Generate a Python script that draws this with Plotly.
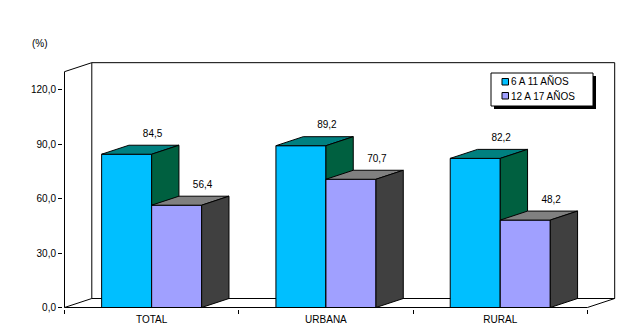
import plotly.graph_objects as go

# ---- data -------------------------------------------------------------
categories = ["TOTAL", "URBANA", "RURAL"]
series_names = ["6 A 11 AÑOS", "12 A 17 AÑOS"]
edad_6_11 = [84.5, 89.2, 82.2]
edad_12_17 = [56.4, 70.7, 48.2]
y_ticks = [0, 30, 60, 90, 120]

# ---- figure geometry --------------------------------------------------
W, H = 643, 336
ML, MR, MT, MB = 63, 27, 60, 27
PW, PH = W - ML - MR, H - MT - MB

X_PX = 174.3          # pixels per category
Y_PX = 1.814          # pixels per percentage point
x_range = [-0.5 - 1.5 / X_PX, -0.5 + (PW - 1.5) / X_PX]
y_range = [-1.5 / Y_PX, (PH - 1.5) / Y_PX]

DX, DY = 27.3 / X_PX, 9.0 / Y_PX   # 3-D depth offset in data units
WALL_TOP = 130.0
BW = 0.287                          # bar width (category units)

FONT = "Liberation Sans, Arial, sans-serif"

# colours: front, top, side
styles = [
    ("#00BFFF", "#008080", "#006040"),
    ("#A0A0FF", "#808080", "#404040"),
]

fig = go.Figure()


def poly(xs, ys, color):
    fig.add_trace(go.Scatter(
        x=xs + [xs[0]], y=ys + [ys[0]], mode="lines", fill="toself",
        fillcolor=color, line=dict(color="black", width=1),
        hoverinfo="skip", showlegend=False))


# walls and floor outline
x_l, x_r = -0.5, len(categories) - 0.5
wx = [x_l, x_l, None, x_l, x_l + DX, None,
      x_l + DX, x_r + DX, None, x_r + DX, x_r + DX, None,
      x_r + DX, x_l + DX, None, x_l + DX, x_l + DX, None,
      x_l, x_l + DX, None, x_r, x_r + DX]
wy = [0, WALL_TOP, None, WALL_TOP, WALL_TOP + DY, None,
      WALL_TOP + DY, WALL_TOP + DY, None, WALL_TOP + DY, DY, None,
      DY, DY, None, DY, WALL_TOP + DY, None,
      0, DY, None, 0, DY]
fig.add_trace(go.Scatter(x=wx, y=wy, mode="lines",
                         line=dict(color="black", width=1),
                         hoverinfo="skip", showlegend=False))

# 3-D columns
for i in range(len(categories)):
    for s, (vals, offset) in enumerate([(edad_6_11, -BW), (edad_12_17, 0.0)]):
        h = vals[i]
        x0 = i + offset
        x1 = x0 + BW
        front, top, side = styles[s]
        poly([x0, x1, x1, x0], [0, 0, h, h], front)
        poly([x0, x1, x1 + DX, x0 + DX], [h, h, h + DY, h + DY], top)
        poly([x1, x1 + DX, x1 + DX, x1], [0, DY, h + DY, h], side)

# front floor edge
fig.add_trace(go.Scatter(x=[x_l, x_r], y=[0, 0], mode="lines",
                         line=dict(color="black", width=1),
                         hoverinfo="skip", showlegend=False))

# value labels
def fmt(v):
    return f"{v:.1f}".replace(".", ",")

for vals, offset in [(edad_6_11, -BW), (edad_12_17, 0.0)]:
    xs = [i + offset + BW / 2 + DX * 0.95 for i in range(len(categories))]
    ys = [v + 11.0 for v in vals]
    fig.add_trace(go.Scatter(
        x=xs, y=ys, mode="text", text=[fmt(v) for v in vals],
        textposition="middle center",
        textfont=dict(family=FONT, size=10, color="black"),
        hoverinfo="skip", showlegend=False, cliponaxis=False))


# ---- legend (drawn in paper coordinates) ------------------------------
def px(xp):
    return (xp - ML) / PW


def py(yp):
    return (H - MB - yp) / PH


shapes = []
lx0, ly0, lx1, ly1 = 491, 73, 593, 106
shapes.append(dict(type="rect", xref="paper", yref="paper",
                   x0=px(lx0 + 3), x1=px(lx1 + 3), y0=py(ly1 + 3), y1=py(ly0 + 3),
                   fillcolor="black", line=dict(width=0), layer="above"))
shapes.append(dict(type="rect", xref="paper", yref="paper",
                   x0=px(lx0), x1=px(lx1), y0=py(ly1), y1=py(ly0),
                   fillcolor="white", line=dict(color="black", width=1),
                   layer="above"))
annotations = []
for k, (name, yc) in enumerate(zip(series_names, [81.5, 95.5])):
    shapes.append(dict(type="rect", xref="paper", yref="paper",
                       x0=px(502), x1=px(508.5), y0=py(yc + 3.5), y1=py(yc - 3),
                       fillcolor=styles[k][0], line=dict(color="black", width=1),
                       layer="above"))
    annotations.append(dict(xref="paper", yref="paper", x=px(509), y=py(yc),
                            xanchor="left", yanchor="middle", text=name,
                            showarrow=False,
                            font=dict(family=FONT, size=10, color="black")))

annotations.append(dict(xref="paper", yref="paper", x=px(40), y=py(43.5),
                        xanchor="center", yanchor="middle", text="(%)",
                        showarrow=False,
                        font=dict(family=FONT, size=10, color="black")))

fig.update_layout(
    width=W, height=H,
    margin=dict(l=ML, r=MR, t=MT, b=MB, pad=0),
    paper_bgcolor="white", plot_bgcolor="white",
    separators=",.",
    showlegend=False,
    shapes=shapes, annotations=annotations,
    xaxis=dict(range=x_range, showgrid=False, zeroline=False, showline=False,
               tickvals=list(range(len(categories))), ticktext=categories,
               ticks="", ticklabelstandoff=3,
               tickfont=dict(family=FONT, size=10, color="black"),
               minor=dict(tickvals=[i - 0.5 for i in range(len(categories) + 1)],
                          ticks="outside", ticklen=4, tickcolor="black",
                          showgrid=False),
               fixedrange=True),
    yaxis=dict(range=y_range, showgrid=False, zeroline=False, showline=False,
               tickvals=y_ticks, tickformat=".1f", ticks="outside", ticklen=4,
               tickcolor="black",
               tickfont=dict(family=FONT, size=10, color="black"),
               fixedrange=True),
)

fig.write_html("out.html")
